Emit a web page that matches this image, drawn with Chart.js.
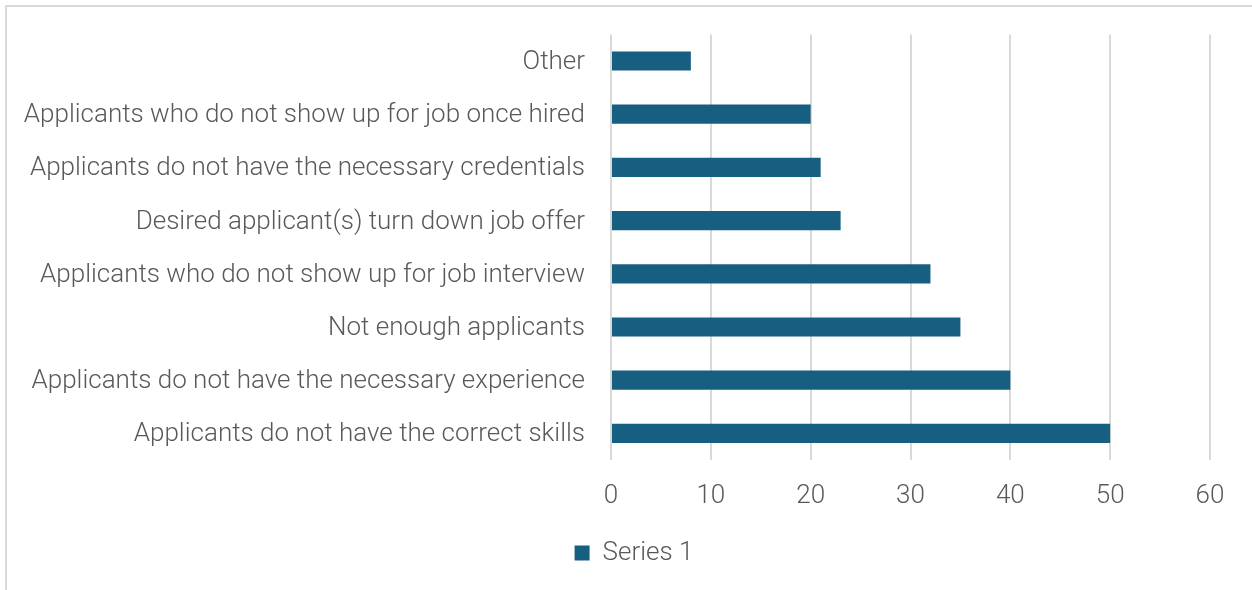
<!DOCTYPE html>
<html>
<head>
<meta charset="utf-8">
<title>Recruitment challenges</title>
<script src="https://cdn.jsdelivr.net/npm/chart.js@4/dist/chart.umd.min.js"></script>
<style>
  html, body { margin: 0; padding: 0; background: #ffffff; overflow: hidden; }
  #frame {
    position: absolute; left: 5px; top: 5px; width: 1300px; height: 640px;
    border-left: 2px solid #d9d9d9; border-top: 2px solid #d9d9d9;
    box-sizing: border-box;
  }
  #wrap { position: absolute; left: 0; top: 0; width: 1252px; height: 590px; }
</style>
</head>
<body>
<div id="frame"></div>
<div id="wrap"><canvas id="chart"></canvas></div>
<script>
// Survey answers, listed from the top bar down
const categories = [
  "Other",
  "Applicants who do not show up for job once hired",
  "Applicants do not have the necessary credentials",
  "Desired applicant(s) turn down job offer",
  "Applicants who do not show up for job interview",
  "Not enough applicants",
  "Applicants do not have the necessary experience",
  "Applicants do not have the correct skills"
];
const series1 = [8, 20, 21, 23, 32, 35, 40, 50];
const seriesName = "Series 1";
const xTicks = [0, 10, 20, 30, 40, 50, 60];

const textColor = "#595959";
const barColor = "#175f80";
const gridColor = "#d9d9d9";
const font = { family: "Roboto, 'Liberation Sans', sans-serif", size: 26, weight: 300 };

const plotLeft = 611;
// the legend sits centred under the outer frame rather than the canvas
const legendShift = {
  id: "legendShift",
  afterLayout(chart) {
    if (chart.legend) {
      chart.legend.left += 29;
      chart.legend.right += 29;
    }
  }
};

new Chart(document.getElementById("chart"), {
  type: "bar",
  data: {
    labels: categories,
    datasets: [{
      label: seriesName,
      data: series1,
      backgroundColor: barColor,
      borderWidth: 0,
      barPercentage: 0.36,
      categoryPercentage: 1
    }]
  },
  options: {
    indexAxis: "y",
    responsive: true,
    maintainAspectRatio: false,
    animation: false,
    layout: { padding: { top: 34.4, right: 42, bottom: 14, left: 0 } },
    scales: {
      x: {
        min: xTicks[0],
        max: xTicks[xTicks.length - 1],
        afterBuildTicks: (scale) => { scale.ticks = xTicks.map(v => ({ value: v })); },
        afterFit: (scale) => {
          scale.height = 70;
          scale.paddingLeft = 0;
          scale.paddingRight = 0;
        },
        border: { display: false },
        grid: { color: gridColor, lineWidth: 2, drawTicks: false },
        ticks: { color: textColor, font: font, padding: 21, maxRotation: 0 }
      },
      y: {
        afterFit: (scale) => {
          scale.width = plotLeft;
          scale.paddingTop = 0;
          scale.paddingBottom = 0;
        },
        border: { display: false },
        grid: { display: false, drawTicks: false },
        ticks: { color: textColor, font: font, padding: 26, autoSkip: false, labelOffset: 1.5 }
      }
    },
    plugins: {
      legend: {
        position: "bottom",
        labels: { color: textColor, font: font, boxWidth: 15, boxHeight: 15, padding: 10 }
      },
      tooltip: { enabled: false }
    }
  },
  plugins: [legendShift]
});
</script>
</body>
</html>
